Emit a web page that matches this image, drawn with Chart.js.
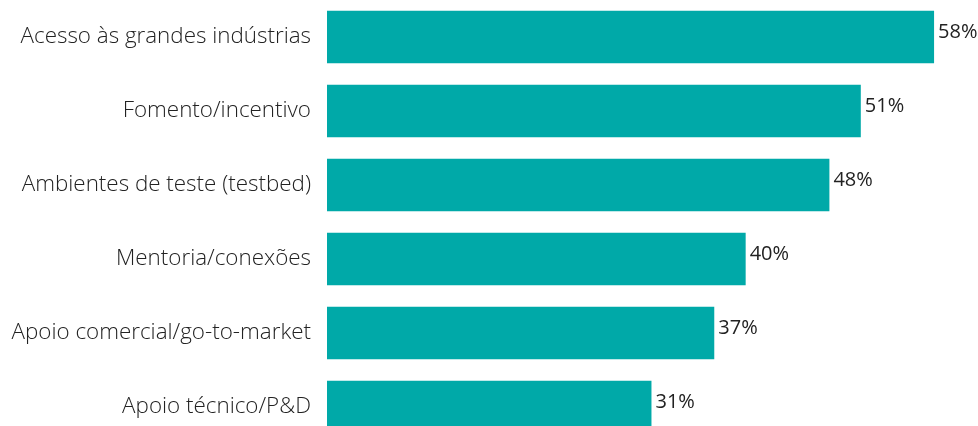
<!DOCTYPE html>
<html>
<head>
<meta charset="utf-8">
<script src="https://cdn.jsdelivr.net/npm/chart.js@4"></script>
<style>
  html, body { margin: 0; padding: 0; background: #fff; overflow: hidden; }
  #wrap { width: 978px; height: 444px; }
</style>
</head>
<body>
<div id="wrap"><canvas id="grafico"></canvas></div>
<script>
// Dados do gráfico
var categorias = [
  'Acesso às grandes indústrias',
  'Fomento/incentivo',
  'Ambientes de teste (testbed)',
  'Mentoria/conexões',
  'Apoio comercial/go-to-market',
  'Apoio técnico/P&D'
];
var valores = [58, 51, 48, 40, 37, 31];

var corBarra = '#00A9A8';
var corTexto = '#222222';

// Rótulos de valor na ponta de cada barra
var rotulos = {
  id: 'rotulos',
  afterDatasetsDraw: function (chart) {
    var ctx = chart.ctx;
    var meta = chart.getDatasetMeta(0);
    ctx.save();
    ctx.font = '20px "Open Sans"';
    ctx.fillStyle = corTexto;
    ctx.textAlign = 'left';
    ctx.textBaseline = 'middle';
    meta.data.forEach(function (bar, i) {
      ctx.fillText(valores[i] + '%', bar.x + 4, bar.y - 5);
    });
    ctx.restore();
  }
};

var ctx = document.getElementById('grafico').getContext('2d');
var chart = new Chart(ctx, {
  type: 'bar',
  data: {
    labels: categorias,
    datasets: [{
      data: valores,
      backgroundColor: corBarra,
      borderWidth: 0,
      categoryPercentage: 1,
      barPercentage: 0.71
    }]
  },
  options: {
    indexAxis: 'y',
    responsive: true,
    maintainAspectRatio: false,
    animation: false,
    layout: { padding: { top: 0, right: 23, bottom: 0, left: 0 } },
    plugins: {
      legend: { display: false },
      tooltip: { enabled: false }
    },
    scales: {
      x: {
        display: false,
        min: 0,
        max: 60
      },
      y: {
        grid: { display: false, drawTicks: false },
        border: { display: false },
        ticks: {
          color: corTexto,
          padding: 16,
          font: { family: 'Open Sans', size: 22.4, weight: '300' }
        },
        afterFit: function (scale) {
          scale.width = 327;
          scale.paddingTop = 0;
          scale.paddingBottom = 0;
        }
      }
    }
  },
  plugins: [rotulos]
});
</script>
</body>
</html>
